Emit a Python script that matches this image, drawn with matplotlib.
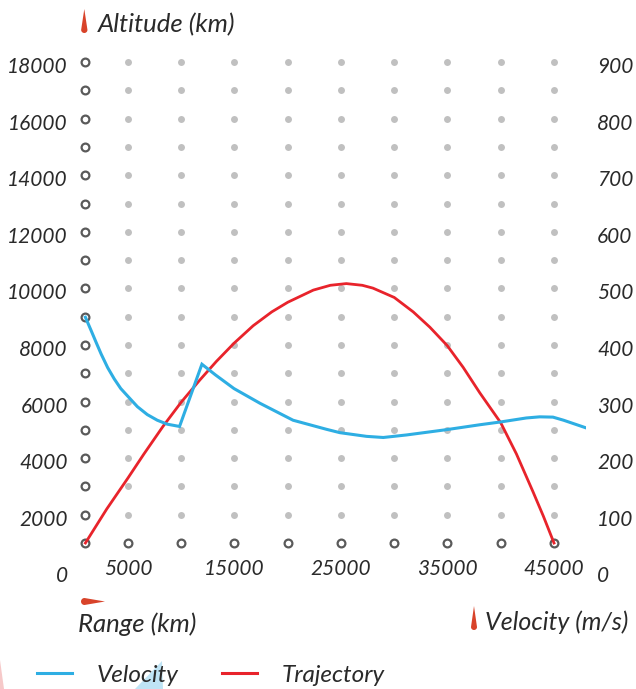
import numpy as np
import matplotlib
matplotlib.use('Agg')
import matplotlib.pyplot as plt
from matplotlib.lines import Line2D
from matplotlib.patches import Polygon
from matplotlib.transforms import ScaledTranslation

plt.rcParams['font.family'] = ['Lato', 'DejaVu Sans']
plt.rcParams['font.style'] = 'italic'

# trajectory (range km, altitude km)
traj_x = [1000, 3000, 5000, 6500, 8300, 10000, 11740, 13300, 14950, 16750,
          18500, 20000, 22400, 24000, 25500, 27000, 28000, 30000, 31780, 33340,
          34970, 36470, 38030, 40000, 41470, 43030, 44000, 45000]
traj_y = [1000, 2200, 3300, 4150, 5130, 5980, 6760, 7420, 8060, 8680,
          9170, 9510, 9940, 10110, 10170, 10110, 10010, 9680, 9170, 8630,
          7980, 7210, 6310, 5250, 4150, 2810, 1950, 1000]

# velocity (range km, m/s)
vel_x = [1000, 1550, 2020, 2480, 3090, 3710, 4320, 5000, 5880, 6810,
         7750, 8690, 9840, 11940, 13220, 14950, 17390, 20500, 23630, 24900,
         27400, 28970, 31160, 34970, 38030, 40000, 42400, 43660, 44900, 45900,
         47930]
vel_y = [449, 425, 404, 384, 360, 340, 323, 309, 291, 277,
         267, 260, 256, 366, 347, 323, 297, 267, 251, 245,
         238.5, 236.5, 241, 250.5, 259, 264, 271, 273, 272.5, 267,
         254]

grid_x = [1000, 5000, 10000, 15000, 20000, 25000, 30000, 35000, 40000, 45000]
grid_y = list(range(1000, 19000, 1000))

alt_ticks = [0, 2000, 4000, 6000, 8000, 10000, 12000, 14000, 16000, 18000]
vel_ticks = [0, 100, 200, 300, 400, 500, 600, 700, 800, 900]
range_ticks = [5000, 15000, 25000, 35000, 45000]

txt = '#2a2a2a'
blue = '#2eaee3'
red = '#e8232b'
accent = '#d8432a'

W, H = 636, 689
fig = plt.figure(figsize=(W / 100, H / 100), dpi=100)
ax = fig.add_axes([74.75 / W, 1 - 571.3 / H, 511.2 / W, 537.5 / H])
ax.set_xlim(0, 48000)
ax.set_ylim(0, 19000)

gx, gy = np.meshgrid(grid_x, grid_y)
edge = (gx == grid_x[0]) | (gy == grid_y[0])
ax.plot(gx[~edge], gy[~edge], 'o', ls='none', ms=5, color='#c0c0c0', mec='none', zorder=1)
ax.plot(gx[edge], gy[edge], 'o', ls='none', ms=5.6, mfc='white', mec='#5a5a5a', mew=1.6, zorder=1)

ax.plot(traj_x, traj_y, color=red, lw=2, zorder=3, solid_joinstyle='round')

ax2 = ax.twinx()
ax2.set_ylim(0, 950)
ax2.plot(vel_x, vel_y, color=blue, lw=2.2, zorder=2, solid_joinstyle='miter')

for a in (ax, ax2):
    for s in a.spines.values():
        s.set_visible(False)

ax.set_yticks(alt_ticks)
ax.set_yticklabels([str(t) for t in alt_ticks])
ax.tick_params(axis='y', length=0, pad=5, labelsize=15, labelcolor=txt)
ax.set_xticks(range_ticks)
ax.set_xticklabels([str(t) for t in range_ticks])
ax.tick_params(axis='x', length=0, pad=-9, labelsize=15, labelcolor=txt)
ax2.set_yticks(vel_ticks)
ax2.set_yticklabels([str(t) for t in vel_ticks])
ax2.tick_params(axis='y', length=0, pad=8, labelsize=15, labelcolor=txt)

shift = ScaledTranslation(0, -3 / 100, fig.dpi_scale_trans)
for lab in ax.get_yticklabels() + ax2.get_yticklabels():
    lab.set_transform(lab.get_transform() + shift)


def drop(cx, cy, length, thick, horizontal=False):
    # teardrop in figure pixels (y from top): point up, or point right
    t = np.linspace(0, np.pi, 24)
    r = thick / 2
    if not horizontal:
        pts = [(cx, cy - length / 2)]
        pts += [(cx + r * np.cos(a), cy + length / 2 - r + r * np.sin(a)) for a in t]
    else:
        pts = [(cx + length / 2, cy)]
        pts += [(cx - length / 2 + r - r * np.sin(a), cy - r * np.cos(a)) for a in t]
    pts = [(px / W, 1 - py / H) for px, py in pts]
    fig.add_artist(Polygon(pts, closed=True, transform=fig.transFigure,
                           facecolor=accent, edgecolor='none'))


drop(84.3, 21, 24, 6.3)
drop(474, 618, 24, 6)
drop(93, 601.5, 24, 7, horizontal=True)

fig.text(98 / W, 1 - 25 / H, 'Altitude (km)', fontsize=18.5, color=txt, va='center', ha='left')
fig.text(78 / W, 1 - 624 / H, 'Range (km)', fontsize=18.5, color=txt, va='center', ha='left')
fig.text(485 / W, 1 - 622 / H, 'Velocity (m/s)', fontsize=18, color=txt, va='center', ha='left')

# faint decorative slivers at the bottom edge
fig.add_artist(Polygon([(0, 1 - 660 / H), (4 / W, 0), (0, 0)], closed=True,
                       transform=fig.transFigure, facecolor='#f6c9c9', edgecolor='none'))
fig.add_artist(Polygon([(162 / W, 1 - 661 / H), (163 / W, 0), (135 / W, 0)], closed=True,
                       transform=fig.transFigure, facecolor='#bfe4f5', edgecolor='none', zorder=0))

handles = [Line2D([], [], color=blue, lw=2.2), Line2D([], [], color=red, lw=2.2)]
fig.legend(handles, ['Velocity', 'Trajectory'], loc='center left',
           bbox_to_anchor=(37 / W, 1 - 675 / H), ncol=2, frameon=False,
           fontsize=17.5, handlelength=1.45, handletextpad=1.0, columnspacing=1.8,
           borderpad=0, borderaxespad=0, labelcolor=txt)

fig.savefig('out.png', dpi=100)
